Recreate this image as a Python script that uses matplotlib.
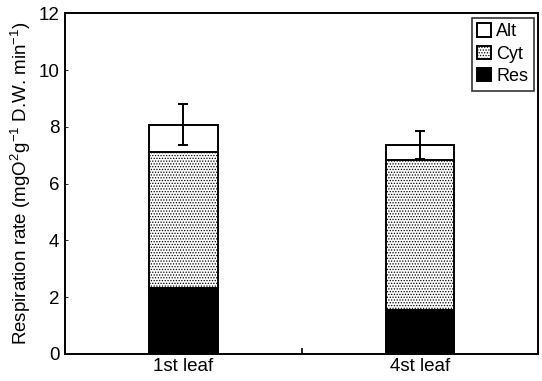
import numpy as np
import matplotlib
matplotlib.use('Agg')
import matplotlib.pyplot as plt

plt.rcParams['font.family'] = ['Liberation Sans', 'DejaVu Sans']
plt.rcParams['mathtext.fontset'] = 'custom'
plt.rcParams['mathtext.rm'] = 'Liberation Sans'
plt.rcParams['mathtext.it'] = 'Liberation Sans'
plt.rcParams['hatch.linewidth'] = 0.6

# data
leaves = ['1st leaf', '4st leaf']
res = [2.32, 1.55]
cyt = [4.79, 5.29]      # cyt top: 7.11, 6.84
alt = [0.97, 0.53]      # total: 8.08, 7.37
err = [0.72, 0.50]

x = np.array([1, 2])
res = np.array(res)
cyt = np.array(cyt)
alt = np.array(alt)
total = res + cyt + alt

fig = plt.figure(figsize=(5.42, 3.81), dpi=100)
ax = fig.add_axes([0.120, 0.071, 0.873, 0.894])

w = 0.29
b_res = ax.bar(x, res, w, color='black', edgecolor='black', linewidth=1.4, label='Res')
b_cyt = ax.bar(x, cyt, w, bottom=res, color='white', edgecolor='black',
               hatch='......', linewidth=1.4, label='Cyt')
b_alt = ax.bar(x, alt, w, bottom=res + cyt, color='white', edgecolor='black',
               linewidth=1.4, label='Alt')
ax.errorbar(x, total, yerr=err, fmt='none', ecolor='black', elinewidth=1.4,
            capsize=3.5, capthick=1.4)

ax.set_xlim(0.5, 2.5)
ax.set_ylim(0, 12)
ax.set_yticks(np.arange(0, 13, 2))
ax.set_xticks(x)
ax.set_xticklabels(leaves)
ax.set_xticks([1.5], minor=True)
ax.tick_params(axis='x', which='major', length=0, pad=3, labelsize=13.5)
ax.tick_params(axis='x', which='minor', direction='in', length=4, width=1.2)
ax.tick_params(axis='y', direction='in', length=2, width=0.6, pad=4, labelsize=13.5)
for s in ax.spines.values():
    s.set_linewidth(1.4)

ax.set_ylabel(r'Respiration rate (mgO$^2$g$^{-1}$ D.W. min$^{-1}$)', fontsize=13.5, labelpad=4)

leg = ax.legend(handles=[b_alt, b_cyt, b_res], loc='upper right', fontsize=13,
                frameon=True, fancybox=False, edgecolor='black',
                handlelength=0.75, handleheight=0.75, handletextpad=0.3,
                borderpad=0.3, labelspacing=0.3, borderaxespad=0.25)
leg.get_frame().set_linewidth(1.2)

fig.savefig('out.png', dpi=100)
